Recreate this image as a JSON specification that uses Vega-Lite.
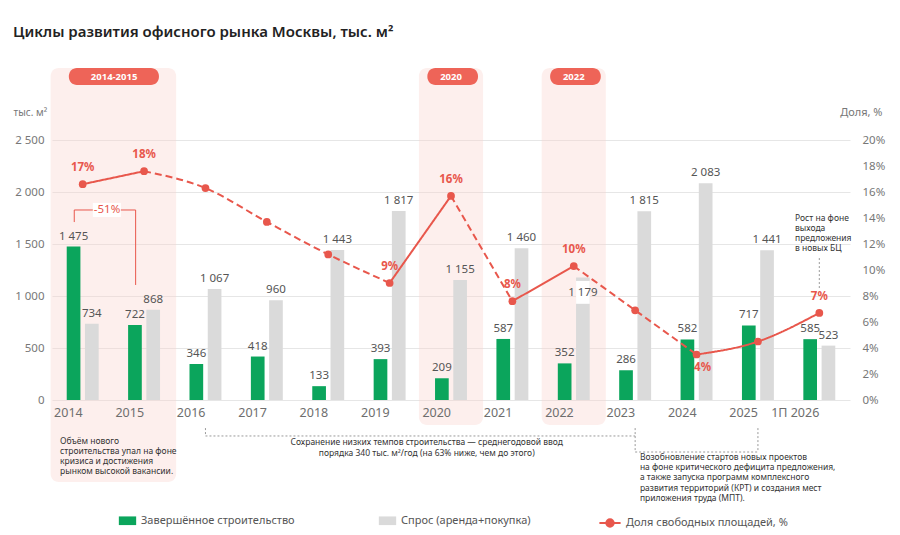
{
  "$schema": "https://vega.github.io/schema/vega-lite/v6.json",
  "width": 798,
  "height": 260,
  "autosize": {"type": "none"},
  "padding": {"left": 52, "top": 140, "right": 50, "bottom": 135},
  "background": "#ffffff",
  "title": {
    "text": "Циклы развития офисного рынка Москвы, тыс. м²",
    "anchor": "start", "frame": "group", "dx": -39, "offset": 28,
    "fontSize": 15, "fontWeight": 600, "color": "#222222"
  },
  "config": {
    "locale": {"number": {"decimal": ",", "thousands": " ", "grouping": [3], "currency": ["", ""]}},
    "view": {"stroke": null},
    "font": "Noto Sans"
  },
  "datasets": {
    "bars": [
      {"year": "2014", "series": "Завершённое строительство", "v": 1475},
      {"year": "2014", "series": "Спрос (аренда+покупка)", "v": 734},
      {"year": "2015", "series": "Завершённое строительство", "v": 722},
      {"year": "2015", "series": "Спрос (аренда+покупка)", "v": 868},
      {"year": "2016", "series": "Завершённое строительство", "v": 346},
      {"year": "2016", "series": "Спрос (аренда+покупка)", "v": 1067},
      {"year": "2017", "series": "Завершённое строительство", "v": 418},
      {"year": "2017", "series": "Спрос (аренда+покупка)", "v": 960},
      {"year": "2018", "series": "Завершённое строительство", "v": 133},
      {"year": "2018", "series": "Спрос (аренда+покупка)", "v": 1443},
      {"year": "2019", "series": "Завершённое строительство", "v": 393},
      {"year": "2019", "series": "Спрос (аренда+покупка)", "v": 1817},
      {"year": "2020", "series": "Завершённое строительство", "v": 209},
      {"year": "2020", "series": "Спрос (аренда+покупка)", "v": 1155},
      {"year": "2021", "series": "Завершённое строительство", "v": 587},
      {"year": "2021", "series": "Спрос (аренда+покупка)", "v": 1460},
      {"year": "2022", "series": "Завершённое строительство", "v": 352},
      {"year": "2022", "series": "Спрос (аренда+покупка)", "v": 1179},
      {"year": "2023", "series": "Завершённое строительство", "v": 286},
      {"year": "2023", "series": "Спрос (аренда+покупка)", "v": 1815},
      {"year": "2024", "series": "Завершённое строительство", "v": 582},
      {"year": "2024", "series": "Спрос (аренда+покупка)", "v": 2083},
      {"year": "2025", "series": "Завершённое строительство", "v": 717},
      {"year": "2025", "series": "Спрос (аренда+покупка)", "v": 1441},
      {"year": "1П 2026", "series": "Завершённое строительство", "v": 585},
      {"year": "1П 2026", "series": "Спрос (аренда+покупка)", "v": 523}
    ],
    "vac": [
      {"seg": "s1", "style": "solid", "n": 1, "year": "2014", "p": 16.6},
      {"seg": "s1", "style": "solid", "n": 2, "year": "2015", "p": 17.6},
      {"seg": "s2", "style": "dashed", "n": 2, "year": "2015", "p": 17.6},
      {"seg": "s2", "style": "dashed", "n": 3, "year": "2016", "p": 16.3},
      {"seg": "s2", "style": "dashed", "n": 4, "year": "2017", "p": 13.7},
      {"seg": "s2", "style": "dashed", "n": 5, "year": "2018", "p": 11.2},
      {"seg": "s2", "style": "dashed", "n": 6, "year": "2019", "p": 9.0},
      {"seg": "s3", "style": "solid", "n": 6, "year": "2019", "p": 9.0},
      {"seg": "s3", "style": "solid", "n": 7, "year": "2020", "p": 15.7},
      {"seg": "s4", "style": "dashed", "n": 7, "year": "2020", "p": 15.7},
      {"seg": "s4", "style": "dashed", "n": 8, "year": "2021", "p": 7.6},
      {"seg": "s5", "style": "solid", "n": 8, "year": "2021", "p": 7.6},
      {"seg": "s5", "style": "solid", "n": 9, "year": "2022", "p": 10.3},
      {"seg": "s6", "style": "dashed", "n": 9, "year": "2022", "p": 10.3},
      {"seg": "s6", "style": "dashed", "n": 10, "year": "2023", "p": 6.9},
      {"seg": "s6", "style": "dashed", "n": 11, "year": "2024", "p": 3.5},
      {"seg": "s7", "style": "solid", "n": 11, "year": "2024", "p": 3.5},
      {"seg": "s7", "style": "solid", "n": 12, "year": "2025", "p": 4.5},
      {"seg": "s7", "style": "solid", "n": 13, "year": "1П 2026", "p": 6.7}
    ],
    "pts": [
      {"year": "2014", "p": 16.6, "label": "17%"},
      {"year": "2015", "p": 17.6, "label": "18%"},
      {"year": "2016", "p": 16.3, "label": ""},
      {"year": "2017", "p": 13.7, "label": ""},
      {"year": "2018", "p": 11.2, "label": ""},
      {"year": "2019", "p": 9.0, "label": "9%"},
      {"year": "2020", "p": 15.7, "label": "16%"},
      {"year": "2021", "p": 7.6, "label": "8%"},
      {"year": "2022", "p": 10.3, "label": "10%"},
      {"year": "2023", "p": 6.9, "label": ""},
      {"year": "2024", "p": 3.5, "label": "4%"},
      {"year": "2025", "p": 4.5, "label": ""},
      {"year": "1П 2026", "p": 6.7, "label": "7%"}
    ]
  },
  "layer": [
    {
      "layer": [
        {
          "data": {"values": [
            {"start": "2014", "end": "2015", "top": 3192, "bottom": -788},
            {"start": "2020", "end": "2020", "top": 3192, "bottom": -240},
            {"start": "2022", "end": "2022", "top": 3192, "bottom": -240}
          ]},
          "mark": {"type": "rect", "fill": "#F9D2CA", "opacity": 0.35, "cornerRadius": 8},
          "encoding": {
            "x": {"field": "start", "type": "ordinal", "bandPosition": -0.45, "title": null,
                  "scale": {"domain": ["2014","2015","2016","2017","2018","2019","2020","2021","2022","2023","2024","2025","1П 2026"], "paddingInner": 0.45, "paddingOuter": 0.225}},
            "x2": {"field": "end", "bandPosition": 1.45},
            "y": {"field": "top", "type": "quantitative", "scale": {"domain": [0, 2500], "nice": false}},
            "y2": {"field": "bottom"}
          }
        },
        {
          "data": {"values": [{"start": "2014", "end": "2015", "top": 3192, "bottom": 3030}]},
          "mark": {"type": "rect", "fill": "#EE6458", "cornerRadius": 8},
          "encoding": {
            "x": {"field": "start", "type": "ordinal", "bandPosition": 0.09, "title": null,
                  "scale": {"domain": ["2014","2015","2016","2017","2018","2019","2020","2021","2022","2023","2024","2025","1П 2026"]}},
            "x2": {"field": "end", "bandPosition": 0.94},
            "y": {"field": "top", "type": "quantitative", "scale": {"domain": [0, 2500], "nice": false}},
            "y2": {"field": "bottom"}
          }
        },
        {
          "data": {"values": [
            {"start": "2020", "end": "2020", "top": 3192, "bottom": 3030},
            {"start": "2022", "end": "2022", "top": 3192, "bottom": 3030}
          ]},
          "mark": {"type": "rect", "fill": "#EE6458", "cornerRadius": 8},
          "encoding": {
            "x": {"field": "start", "type": "ordinal", "bandPosition": -0.2, "title": null,
                  "scale": {"domain": ["2014","2015","2016","2017","2018","2019","2020","2021","2022","2023","2024","2025","1П 2026"]}},
            "x2": {"field": "end", "bandPosition": 1.3},
            "y": {"field": "top", "type": "quantitative", "scale": {"domain": [0, 2500], "nice": false}},
            "y2": {"field": "bottom"}
          }
        },
        {
          "data": {"values": [{"year": "2014", "v": 3108, "t": "2014-2015"}]},
          "mark": {"type": "text", "color": "#ffffff", "fontSize": 9.5, "fontWeight": "bold", "baseline": "middle", "align": "center"},
          "encoding": {
            "x": {"field": "year", "type": "ordinal", "bandPosition": 1.43, "title": null,
                  "scale": {"domain": ["2014","2015","2016","2017","2018","2019","2020","2021","2022","2023","2024","2025","1П 2026"]}},
            "y": {"field": "v", "type": "quantitative", "scale": {"domain": [0, 2500], "nice": false}},
            "text": {"field": "t"}
          }
        },
        {
          "data": {"values": [{"year": "2020", "v": 3108, "t": "2020"}, {"year": "2022", "v": 3108, "t": "2022"}]},
          "mark": {"type": "text", "color": "#ffffff", "fontSize": 9.5, "fontWeight": "bold", "baseline": "middle", "align": "center"},
          "encoding": {
            "x": {"field": "year", "type": "ordinal", "bandPosition": 0.5, "title": null,
                  "scale": {"domain": ["2014","2015","2016","2017","2018","2019","2020","2021","2022","2023","2024","2025","1П 2026"]}},
            "y": {"field": "v", "type": "quantitative", "scale": {"domain": [0, 2500], "nice": false}},
            "text": {"field": "t"}
          }
        },
        {
          "data": {"name": "bars"},
          "mark": {"type": "bar"},
          "encoding": {
            "x": {"field": "year", "type": "ordinal", "title": null,
                  "scale": {"domain": ["2014","2015","2016","2017","2018","2019","2020","2021","2022","2023","2024","2025","1П 2026"], "paddingInner": 0.45, "paddingOuter": 0.225},
                  "axis": {"labelAngle": 0, "labelColor": "#6E6E6E", "labelFontSize": 12.5, "labelPadding": 12, "ticks": false, "domain": false, "grid": false}},
            "xOffset": {"field": "series", "scale": {"domain": ["Завершённое строительство", "Спрос (аренда+покупка)"], "paddingInner": 0.25, "paddingOuter": 0.05}},
            "y": {"field": "v", "type": "quantitative", "scale": {"domain": [0, 2500], "nice": false},
                  "axis": {"title": "тыс. м²", "titleAngle": 0, "titleAlign": "left", "titleBaseline": "middle", "titleX": -39, "titleY": -28,
                           "titleFontSize": 10, "titleFontWeight": "normal", "titleColor": "#777777",
                           "values": [0, 500, 1000, 1500, 2000, 2500], "tickCount": 20, "format": ",d", "labelColor": "#777777", "labelFontSize": 11.5,
                           "labelPadding": 8, "labelOverlap": false, "ticks": false, "domain": false, "grid": true, "gridColor": "#E6E6E6"}},
            "fill": {"field": "series", "type": "nominal",
                     "scale": {"domain": ["Завершённое строительство", "Спрос (аренда+покупка)"], "range": ["#0BA55C", "#DADADA"]},
                     "legend": {"title": null, "orient": "none", "legendX": 66, "legendY": 371, "direction": "horizontal",
                                "columnPadding": 83, "symbolType": "M-1,-0.5H1V0.5H-1Z", "symbolSize": 300,
                                "labelFontSize": 11, "labelColor": "#555555", "labelLimit": 300}}
          }
        },
        {
          "data": {"name": "bars"},
          "transform": [{"filter": "!(datum.year == '2022' && datum.v == 1179)"}],
          "mark": {"type": "text", "baseline": "bottom", "dy": -5, "color": "#555555", "fontSize": 11.5},
          "encoding": {
            "x": {"field": "year", "type": "ordinal", "title": null,
                  "scale": {"domain": ["2014","2015","2016","2017","2018","2019","2020","2021","2022","2023","2024","2025","1П 2026"]}},
            "xOffset": {"field": "series", "scale": {"domain": ["Завершённое строительство", "Спрос (аренда+покупка)"], "paddingInner": 0.25, "paddingOuter": 0.05}},
            "y": {"field": "v", "type": "quantitative", "scale": {"domain": [0, 2500], "nice": false}},
            "text": {"field": "v", "type": "quantitative", "format": ",d"}
          }
        },
        {
          "data": {"values": [{"year": "2022", "series": "Спрос (аренда+покупка)", "v": 925, "v2": 1145}]},
          "mark": {"type": "rect", "fill": "#ffffff"},
          "encoding": {
            "x": {"field": "year", "type": "ordinal", "title": null,
                  "scale": {"domain": ["2014","2015","2016","2017","2018","2019","2020","2021","2022","2023","2024","2025","1П 2026"]}},
            "xOffset": {"field": "series", "scale": {"domain": ["Завершённое строительство", "Спрос (аренда+покупка)"], "paddingInner": 0.25, "paddingOuter": 0.05}},
            "y": {"field": "v", "type": "quantitative", "scale": {"domain": [0, 2500], "nice": false}},
            "y2": {"field": "v2"}
          }
        },
        {
          "data": {"values": [{"year": "2022", "series": "Спрос (аренда+покупка)", "v": 1030}]},
          "mark": {"type": "text", "baseline": "middle", "color": "#555555", "fontSize": 11.5},
          "encoding": {
            "x": {"field": "year", "type": "ordinal", "title": null,
                  "scale": {"domain": ["2014","2015","2016","2017","2018","2019","2020","2021","2022","2023","2024","2025","1П 2026"]}},
            "xOffset": {"field": "series", "scale": {"domain": ["Завершённое строительство", "Спрос (аренда+покупка)"], "paddingInner": 0.25, "paddingOuter": 0.05}},
            "y": {"field": "v", "type": "quantitative", "scale": {"domain": [0, 2500], "nice": false}},
            "text": {"value": "1 179"}
          }
        },
        {
          "data": {"values": [
            {"year": "2014", "v": 1711, "n": 1},
            {"year": "2014", "v": 1827, "n": 2},
            {"year": "2015", "v": 1827, "n": 3},
            {"year": "2015", "v": 1106, "n": 4}
          ]},
          "mark": {"type": "line", "color": "#E8574C", "strokeWidth": 1},
          "encoding": {
            "x": {"field": "year", "type": "ordinal", "bandPosition": 0.25, "title": null,
                  "scale": {"domain": ["2014","2015","2016","2017","2018","2019","2020","2021","2022","2023","2024","2025","1П 2026"]}},
            "y": {"field": "v", "type": "quantitative", "scale": {"domain": [0, 2500], "nice": false}},
            "order": {"field": "n"}
          }
        },
        {
          "data": {"values": [{"year": "2014", "v": 1760, "v2": 1895}]},
          "mark": {"type": "rect", "fill": "#ffffff"},
          "encoding": {
            "x": {"field": "year", "type": "ordinal", "bandPosition": 0.8, "title": null,
                  "scale": {"domain": ["2014","2015","2016","2017","2018","2019","2020","2021","2022","2023","2024","2025","1П 2026"]}},
            "x2": {"field": "year", "bandPosition": 1.63},
            "y": {"field": "v", "type": "quantitative", "scale": {"domain": [0, 2500], "nice": false}},
            "y2": {"field": "v2"}
          }
        },
        {
          "data": {"values": [{"year": "2014", "v": 1827, "t": "-51%"}]},
          "mark": {"type": "text", "color": "#E8574C", "fontSize": 11.5, "baseline": "middle", "align": "center"},
          "encoding": {
            "x": {"field": "year", "type": "ordinal", "bandPosition": 1.22, "title": null,
                  "scale": {"domain": ["2014","2015","2016","2017","2018","2019","2020","2021","2022","2023","2024","2025","1П 2026"]}},
            "y": {"field": "v", "type": "quantitative", "scale": {"domain": [0, 2500], "nice": false}},
            "text": {"field": "t"}
          }
        },
        {
          "data": {"values": [
            {"year": "2016", "v": -270, "v2": -346},
            {"year": "2023", "v": -270, "v2": -500},
            {"year": "2025", "v": -270, "v2": -500},
            {"year": "1П 2026", "v": 1365, "v2": 1058}
          ]},
          "mark": {"type": "rule", "color": "#9A9A9A", "strokeWidth": 1, "strokeDash": [2, 2]},
          "encoding": {
            "x": {"field": "year", "type": "ordinal", "bandPosition": 0.5, "title": null,
                  "scale": {"domain": ["2014","2015","2016","2017","2018","2019","2020","2021","2022","2023","2024","2025","1П 2026"]}},
            "y": {"field": "v", "type": "quantitative", "scale": {"domain": [0, 2500], "nice": false}},
            "y2": {"field": "v2"}
          }
        },
        {
          "data": {"values": [
            {"year": "2016", "year2": "2023", "v": -346},
            {"year": "2023", "year2": "2025", "v": -500}
          ]},
          "mark": {"type": "rule", "color": "#9A9A9A", "strokeWidth": 1, "strokeDash": [2, 2]},
          "encoding": {
            "x": {"field": "year", "type": "ordinal", "bandPosition": 0.5, "title": null,
                  "scale": {"domain": ["2014","2015","2016","2017","2018","2019","2020","2021","2022","2023","2024","2025","1П 2026"]}},
            "x2": {"field": "year2", "bandPosition": 0.5},
            "y": {"field": "v", "type": "quantitative", "scale": {"domain": [0, 2500], "nice": false}}
          }
        },
        {
          "data": {"values": [{"year": "2014", "v": -356, "t": "Объём нового\nстроительства упал на фоне\nкризиса и достижения\nрынком высокой вакансии."}]},
          "mark": {"type": "text", "align": "left", "baseline": "top", "fontSize": 8.5, "lineHeight": 10, "lineBreak": "\n", "color": "#333333"},
          "encoding": {
            "x": {"field": "year", "type": "ordinal", "bandPosition": -0.17, "title": null,
                  "scale": {"domain": ["2014","2015","2016","2017","2018","2019","2020","2021","2022","2023","2024","2025","1П 2026"]}},
            "y": {"field": "v", "type": "quantitative", "scale": {"domain": [0, 2500], "nice": false}},
            "text": {"field": "t"}
          }
        },
        {
          "data": {"values": [{"year": "2019", "v": -365, "t": "Сохранение низких темпов строительства — среднегодовой ввод\nпорядка 340 тыс. м²/год (на 63% ниже, чем до этого)"}]},
          "mark": {"type": "text", "align": "center", "baseline": "top", "fontSize": 8.5, "lineHeight": 11, "lineBreak": "\n", "color": "#333333"},
          "encoding": {
            "x": {"field": "year", "type": "ordinal", "bandPosition": 1.6, "title": null,
                  "scale": {"domain": ["2014","2015","2016","2017","2018","2019","2020","2021","2022","2023","2024","2025","1П 2026"]}},
            "y": {"field": "v", "type": "quantitative", "scale": {"domain": [0, 2500], "nice": false}},
            "text": {"field": "t"}
          }
        },
        {
          "data": {"values": [{"year": "2023", "v": -510, "t": "Возобновление стартов новых проектов\nна фоне критического дефицита предложения,\nа также запуска программ комплексного\nразвития территорий (КРТ) и создания мест\nприложения труда (МПТ)."}]},
          "mark": {"type": "text", "align": "left", "baseline": "top", "fontSize": 8.5, "lineHeight": 10.2, "lineBreak": "\n", "color": "#333333"},
          "encoding": {
            "x": {"field": "year", "type": "ordinal", "bandPosition": 0.64, "title": null,
                  "scale": {"domain": ["2014","2015","2016","2017","2018","2019","2020","2021","2022","2023","2024","2025","1П 2026"]}},
            "y": {"field": "v", "type": "quantitative", "scale": {"domain": [0, 2500], "nice": false}},
            "text": {"field": "t"}
          }
        },
        {
          "data": {"values": [{"year": "1П 2026", "v": 1788, "t": "Рост на фоне\nвыхода\nпредложения\nв новых БЦ"}]},
          "mark": {"type": "text", "align": "left", "baseline": "top", "fontSize": 8.5, "lineHeight": 10, "lineBreak": "\n", "color": "#333333"},
          "encoding": {
            "x": {"field": "year", "type": "ordinal", "bandPosition": -0.22, "title": null,
                  "scale": {"domain": ["2014","2015","2016","2017","2018","2019","2020","2021","2022","2023","2024","2025","1П 2026"]}},
            "y": {"field": "v", "type": "quantitative", "scale": {"domain": [0, 2500], "nice": false}},
            "text": {"field": "t"}
          }
        }
      ]
    },
    {
      "layer": [
        {
          "data": {"name": "vac"},
          "mark": {"type": "line", "strokeWidth": 2, "interpolate": "monotone"},
          "encoding": {
            "x": {"field": "year", "type": "ordinal", "title": null,
                  "scale": {"domain": ["2014","2015","2016","2017","2018","2019","2020","2021","2022","2023","2024","2025","1П 2026"]}},
            "y": {"field": "p", "type": "quantitative", "scale": {"domain": [0, 20], "nice": false},
                  "axis": {"orient": "right", "title": "Доля, %", "titleAngle": 0, "titleAlign": "right", "titleBaseline": "middle",
                           "titleX": 32, "titleY": -28, "titleFontSize": 11, "titleFontWeight": "normal", "titleColor": "#777777",
                           "values": [0, 2, 4, 6, 8, 10, 12, 14, 16, 18, 20], "tickCount": 20, "labelExpr": "datum.value + '%'", "labelOverlap": false,
                           "labelColor": "#777777", "labelFontSize": 11.5, "labelPadding": 12, "ticks": false, "domain": false, "grid": false}},
            "detail": {"field": "seg"},
            "order": {"field": "n"},
            "strokeDash": {"field": "style", "type": "nominal", "scale": {"domain": ["solid", "dashed"], "range": [[1, 0], [7, 4]]}, "legend": null},
            "stroke": {"datum": "Доля свободных площадей, %", "type": "nominal", "scale": {"range": ["#E8574C"]},
                       "legend": {"title": null, "orient": "none", "legendX": 546, "legendY": 371, "direction": "horizontal",
                                  "symbolType": "M-1,0H1M-0.35,0A0.35,0.35 0 1 0 0.35,0A0.35,0.35 0 1 0 -0.35,0Z",
                                  "symbolSize": 450, "symbolStrokeWidth": 2, "symbolFillColor": "#E8574C",
                                  "labelFontSize": 11, "labelColor": "#555555", "labelLimit": 300}}
          }
        },
        {
          "data": {"name": "pts"},
          "mark": {"type": "point", "filled": true, "size": 60, "color": "#E8574C", "opacity": 1},
          "encoding": {
            "x": {"field": "year", "type": "ordinal", "title": null,
                  "scale": {"domain": ["2014","2015","2016","2017","2018","2019","2020","2021","2022","2023","2024","2025","1П 2026"]}},
            "y": {"field": "p", "type": "quantitative", "scale": {"domain": [0, 20], "nice": false}}
          }
        },
        {
          "data": {"name": "pts"},
          "transform": [{"filter": "datum.label != '' && datum.year != '2024'"}],
          "mark": {"type": "text", "color": "#E8574C", "fontSize": 11.5, "fontWeight": "bold", "dy": -16, "baseline": "middle"},
          "encoding": {
            "x": {"field": "year", "type": "ordinal", "title": null,
                  "scale": {"domain": ["2014","2015","2016","2017","2018","2019","2020","2021","2022","2023","2024","2025","1П 2026"]}},
            "y": {"field": "p", "type": "quantitative", "scale": {"domain": [0, 20], "nice": false}},
            "text": {"field": "label"}
          }
        },
        {
          "data": {"name": "pts"},
          "transform": [{"filter": "datum.year == '2024'"}],
          "mark": {"type": "text", "color": "#E8574C", "fontSize": 11.5, "fontWeight": "bold", "dy": 13, "dx": 6, "baseline": "middle"},
          "encoding": {
            "x": {"field": "year", "type": "ordinal", "title": null,
                  "scale": {"domain": ["2014","2015","2016","2017","2018","2019","2020","2021","2022","2023","2024","2025","1П 2026"]}},
            "y": {"field": "p", "type": "quantitative", "scale": {"domain": [0, 20], "nice": false}},
            "text": {"field": "label"}
          }
        }
      ]
    }
  ],
  "resolve": {"scale": {"y": "independent"}}
}
